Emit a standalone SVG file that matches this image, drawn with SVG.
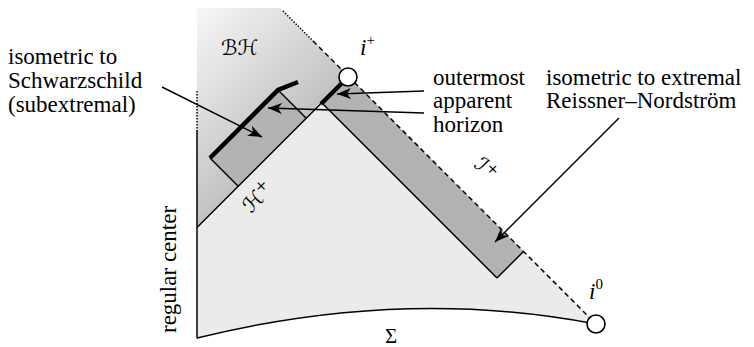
<svg xmlns="http://www.w3.org/2000/svg" width="754" height="347" viewBox="0 0 754 347">
<style>
.t{font-family:"Liberation Serif","DejaVu Serif",serif;font-size:23px;fill:#000}
.m{font-family:"Liberation Serif","DejaVu Serif",serif;font-size:23px;font-style:italic;fill:#000}
.cal{font-family:"DejaVu Serif","DejaVu Sans",serif;font-size:21px;font-style:italic;fill:#000}
.sup{font-size:15px;font-style:normal}
.thin{fill:none;stroke:#000;stroke-width:1.5}
.thick{fill:none;stroke:#000;stroke-width:4.5}
.dash{fill:none;stroke:#000;stroke-width:1.5;stroke-dasharray:5 3.5}
.dot{fill:none;stroke:#000;stroke-width:1.5;stroke-dasharray:1.4 1.6}
.arr{fill:none;stroke:#000;stroke-width:1.5;marker-end:url(#ah)}
.strip{fill:#b3b3b3}
.pt{fill:#fff;stroke:#000;stroke-width:1.6}
</style>
<defs>
<linearGradient id="bhg" gradientUnits="userSpaceOnUse" x1="197" y1="8" x2="307" y2="118">
<stop offset="0" stop-color="#f7f7f7"/>
<stop offset="1" stop-color="#c2c2c2"/>
</linearGradient>
<marker id="ah" viewBox="-15 -7 16 14" refX="0" refY="0" markerWidth="16" markerHeight="14" orient="auto" markerUnits="userSpaceOnUse">
<path d="M0,0 L-14,-5.5 L-10,0 L-14,5.5 Z" fill="#000"/>
</marker>
</defs>

<g id="regions">
<path id="blackhole" d="M197,8 L280,8 L348.5,76.5 L197,227.5 Z" fill="url(#bhg)"/>
<path id="exterior" d="M197,227.5 L348.5,76.5 L596,324 Q403.5,287 197,338 Z" fill="#ebebeb"/>
<path id="schwarzschild-strip" class="strip" d="M210,158 L278,90 L306.5,118.5 L238.5,186.5 Z"/>
<path id="rn-strip" class="strip" d="M322,103 L348.5,76.5 L523.5,251.5 L497,278 Z"/>
</g>

<g id="boundaries">
<line class="dot" x1="197" y1="91" x2="197" y2="131"/>
<line class="thin" x1="197" y1="131" x2="197" y2="338.5"/>
<path class="thin" d="M197,338 Q403.5,287 596,324"/>
<line class="thin" x1="197" y1="227.5" x2="322" y2="102.5"/>
<line class="dot" x1="283" y1="11" x2="313" y2="41"/>
<line class="dash" x1="313" y1="41" x2="348.5" y2="76.5"/>
<line class="dash" x1="348.5" y1="76.5" x2="596" y2="324"/>
<line class="thin" x1="210" y1="158" x2="238.5" y2="186.5"/>
<line class="thin" x1="278" y1="90" x2="306.5" y2="118.5"/>
<line class="thin" x1="322" y1="103" x2="497" y2="278"/>
<line class="thin" x1="497" y1="278" x2="523.5" y2="251.5"/>
<path class="thick" d="M210,158 L278,90 L298,82"/>
<line class="thick" x1="321" y1="104" x2="344" y2="81"/>
</g>

<g id="iplus"><circle class="pt" cx="348" cy="77" r="9"/><text class="m" x="360" y="55">i<tspan class="sup" dy="-10">+</tspan></text></g>
<g id="izero"><circle class="pt" cx="596" cy="324" r="9"/><text class="m" x="589" y="299">i<tspan class="sup" dy="-10">0</tspan></text></g>

<g id="labels">
<text id="bh" class="cal" x="221" y="55">ℬℋ</text>
<text id="hplus" class="cal" transform="translate(251,214) rotate(-45)">ℋ<tspan class="sup" dy="-8">+</tspan></text>
<text id="scriplus" class="cal" transform="translate(473,166) rotate(45)">ℐ<tspan class="sup" dy="-7">+</tspan></text>
<text id="sigma" class="t" x="385" y="343" style="font-size:21px">Σ</text>
<text id="regcenter" class="t" transform="translate(176,333) rotate(-90)">regular center</text>
</g>

<g id="label-schw"><text class="t" x="8" y="64">isometric to</text><text class="t" x="8" y="88">Schwarzschild</text><text class="t" x="8" y="112">(subextremal)</text></g>
<g id="label-ah"><text class="t" x="433" y="85">outermost</text><text class="t" x="433" y="108">apparent</text><text class="t" x="433" y="132">horizon</text></g>
<g id="label-rn"><text class="t" x="546" y="85">isometric to extremal</text><text class="t" x="546" y="108">Reissner–Nordström</text></g>

<g id="connectors">
<line class="arr" x1="162" y1="87" x2="262" y2="137"/>
<line class="arr" x1="424" y1="91" x2="337" y2="94"/>
<line class="arr" x1="424" y1="113" x2="268" y2="108"/>
<line class="arr" x1="619" y1="118" x2="495" y2="242"/>
</g>
</svg>
